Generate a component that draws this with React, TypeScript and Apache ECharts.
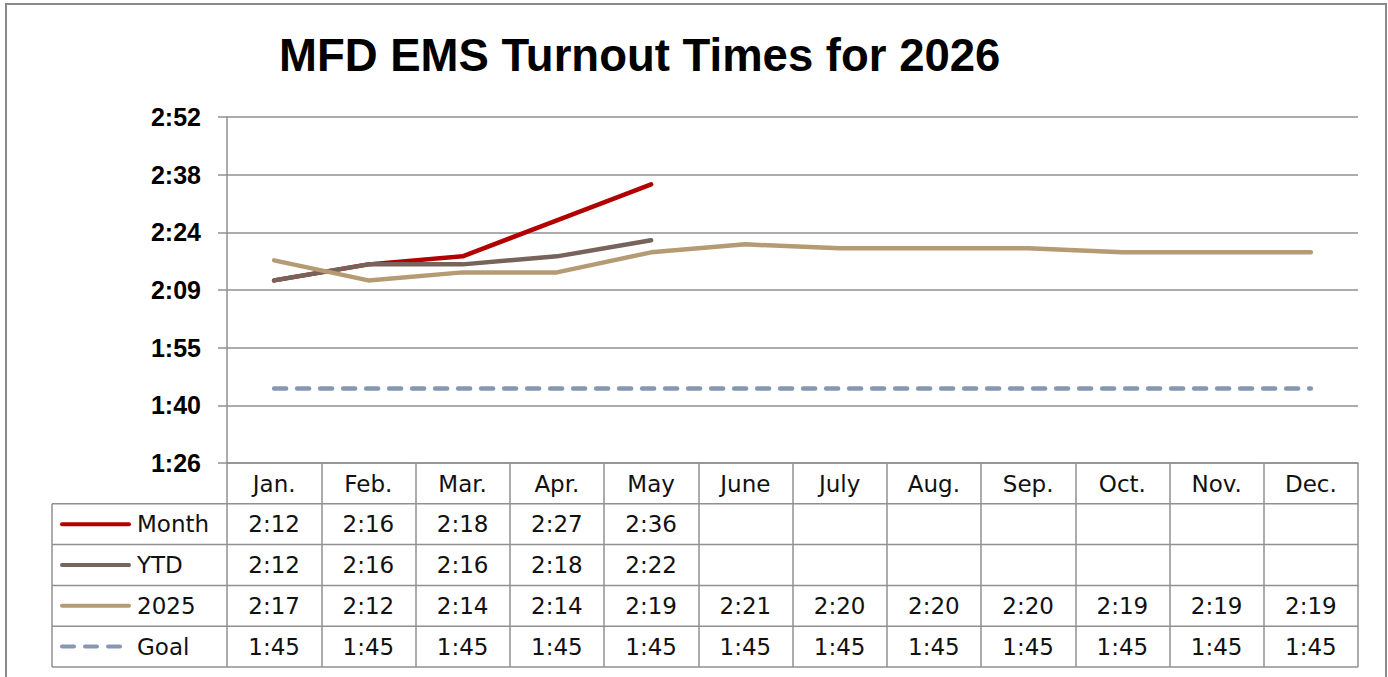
import React, { useEffect, useRef } from "react";
import * as echarts from "echarts";

// ---- data ----
const titleText = "MFD EMS Turnout Times for 2026";
const months = ["Jan.", "Feb.", "Mar.", "Apr.", "May", "June", "July", "Aug.", "Sep.", "Oct.", "Nov.", "Dec."];
// values in seconds
const monthSec = [132, 136, 138, 147, 156, null, null, null, null, null, null, null];
const ytdSec = [132, 136, 136, 138, 142, null, null, null, null, null, null, null];
const prevSec = [137, 132, 134, 134, 139, 141, 140, 140, 140, 139, 139, 139];
const goalSec = [105, 105, 105, 105, 105, 105, 105, 105, 105, 105, 105, 105];
const seriesNames = ["Month", "YTD", "2025", "Goal"];
const seriesColors = ["#B20000", "#77635A", "#B49B73", "#8597B1"];
// y axis in seconds (Excel: 0.001 .. 0.002 days)
const yMin = 86.4;
const yMax = 172.8;
const yInterval = 14.4;

const fmt = (s: number | null) => {
  if (s == null) return "";
  const t = Math.floor(s + 1e-6);
  const m = Math.floor(t / 60);
  const ss = t % 60;
  return m + ":" + (ss < 10 ? "0" : "") + ss;
};

const GRID_COLOR = "#909090";
const TABLE_FONT = "'DejaVu Sans', sans-serif";

export default function App() {
  const ref = useRef<HTMLDivElement>(null);
  useEffect(() => {
    if (!ref.current) return;
    const chart = echarts.init(ref.current, null, { renderer: "svg" });
    const allData = [monthSec, ytdSec, prevSec, goalSec];
    const gridTop = 117;
    const gridBottomY = 463;
    chart.setOption({
      animation: false,
      backgroundColor: "#ffffff",
      grid: { left: 227, right: 30, top: gridTop, bottom: 677 - gridBottomY, containLabel: false },
      xAxis: {
        type: "category",
        data: months,
        boundaryGap: true,
        axisLine: { show: true, lineStyle: { color: GRID_COLOR, width: 1.5 } },
        axisTick: {
          show: true,
          interval: 0,
          length: 204,
          lineStyle: { color: GRID_COLOR, width: 1.5 },
        },
        axisLabel: {
          interval: 0,
          margin: 21,
          verticalAlign: "middle",
          fontFamily: TABLE_FONT,
          fontSize: 23,
          color: "#111",
        },
        splitLine: { show: false },
      },
      yAxis: {
        type: "value",
        min: yMin,
        max: yMax,
        interval: yInterval,
        axisLine: { show: true, lineStyle: { color: GRID_COLOR, width: 1.5 } },
        axisTick: { show: true, length: 9, lineStyle: { color: GRID_COLOR, width: 1.5 } },
        axisLabel: {
          margin: 26,
          formatter: (v: number) => fmt(v),
          fontFamily: "'Liberation Sans', Arial, sans-serif",
          fontWeight: "bold",
          fontSize: 25,
          color: "#000",
        },
        splitLine: { show: true, lineStyle: { color: GRID_COLOR, width: 1.5 } },
      },
      series: allData.map((d, i) => ({
        name: seriesNames[i],
        type: "line",
        data: d,
        symbol: "none",
        connectNulls: false,
        lineStyle: {
          color: seriesColors[i],
          width: 4.5,
          cap: "round",
          join: "round",
          type: i === 3 ? [12, 11] : "solid",
        },
        z: 2 + i,
      })),
    });

    // table built from the axis scale
    const rowH = (667 - gridBottomY) / 5;
    const tableLeft = 52;
    const tableRight = chart.convertToPixel({ xAxisIndex: 0 }, months.length - 1) as number;
    const xs = months.map((_, i) => chart.convertToPixel({ xAxisIndex: 0 }, i) as number);
    const halfW = xs.length > 1 ? (xs[1] - xs[0]) / 2 : 47;
    const rightEdge = tableRight + halfW;
    const graphics: any[] = [];
    // frame
    graphics.push({
      type: "rect",
      shape: { x: 6, y: 4, width: 1380, height: 720 },
      style: { fill: "none", stroke: "#8a8a8a", lineWidth: 2 },
      silent: true,
      z: 0,
    });
    graphics.push({
      type: "text",
      x: 279,
      y: 55,
      style: {
        text: titleText,
        font: "bold 45.5px 'Liberation Sans', Arial, sans-serif",
        fill: "#000",
        textAlign: "left",
        textVerticalAlign: "middle",
      },
    });
    // horizontal table lines
    for (let r = 1; r <= 5; r++) {
      const y = gridBottomY + rowH * r;
      graphics.push({
        type: "line",
        shape: { x1: tableLeft, y1: y, x2: rightEdge, y2: y },
        style: { stroke: GRID_COLOR, lineWidth: 1.5 },
        silent: true,
      });
    }
    graphics.push({
      type: "line",
      shape: { x1: tableLeft, y1: gridBottomY + rowH, x2: tableLeft, y2: gridBottomY + rowH * 5 },
      style: { stroke: GRID_COLOR, lineWidth: 1.5 },
      silent: true,
    });
    // rows
    allData.forEach((d, r) => {
      const cy = gridBottomY + rowH * (r + 1.5);
      graphics.push({
        type: "line",
        shape: { x1: 62, y1: cy, x2: r === 3 ? 122 : 129, y2: cy },
        style: {
          stroke: seriesColors[r],
          lineWidth: 4,
          lineCap: "round",
          lineDash: r === 3 ? [12, 11] : null,
        },
        silent: true,
      });
      graphics.push({
        type: "text",
        x: 137,
        y: cy,
        style: {
          text: seriesNames[r],
          font: "23px " + TABLE_FONT,
          fill: "#111",
          textAlign: "left",
          textVerticalAlign: "middle",
        },
      });
      d.forEach((v, i) => {
        if (v == null) return;
        graphics.push({
          type: "text",
          x: xs[i],
          y: cy,
          style: {
            text: fmt(v),
            font: "23px " + TABLE_FONT,
            fill: "#111",
            textAlign: "center",
            textVerticalAlign: "middle",
          },
        });
      });
    });
    chart.setOption({ graphic: graphics });
    return () => chart.dispose();
  }, []);
  return (
    <div
      ref={ref}
      style={{ position: "fixed", left: 0, top: 0, width: 1388, height: 677 }}
    />
  );
}
